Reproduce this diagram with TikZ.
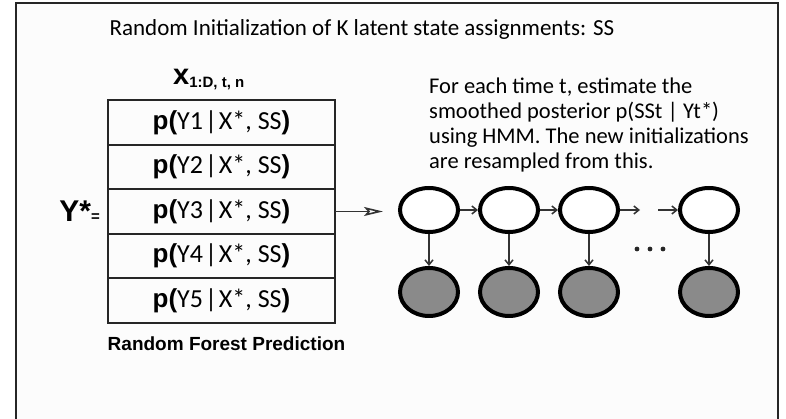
\documentclass[tikz,border=0pt]{standalone}
\usepackage{fontspec}
\setmainfont{Carlito}
\newfontfamily\arialfont{Liberation Sans}
\usetikzlibrary{positioning,arrows.meta,shapes.geometric}
\colorlet{colorFrame}{black!85}
\colorlet{colorEdge}{black!80}
\colorlet{colorObs}{black!46}
\tikzset{
   every path/.style={>={Straight Barb[length=5pt,width=8pt]}},
   frame/.style={color=colorFrame,line width=2pt},
   cell/.style={draw=black!85,line width=2pt,minimum width=227pt,minimum height=44.6pt,
                inner sep=0pt,outer sep=0pt,font=\fontsize{26}{28}\selectfont},
   hid/.style={ellipse,draw=black,line width=4pt,fill=white,minimum width=58pt,
               minimum height=44pt,inner sep=0pt},
   obs/.style={hid,fill=colorObs,minimum height=48pt},
   tr/.style={->,color=colorEdge,line width=1.5pt},
   em/.style={->,color=colorEdge,line width=1.5pt},
   feed/.style={-{Stealth[open,length=19pt,width=9pt,inset=4pt]},color=colorEdge,line width=1.6pt},
}
\newcommand{\pcell}[1]{{\arialfont\bfseries p(}Y#1\kern2pt|\kern2pt X*, SS{\arialfont\bfseries )}}

\begin{document}
\begin{tikzpicture}[x=1pt,y=1pt]
    \useasboundingbox (0,0) rectangle (786,419);
    \fill[black!1] (16,0) rectangle (778,416);
    \draw[frame] (16,0) -- (16,416) -- (778,416) -- (778,0);

    \node[font=\fontsize{23}{25}\selectfont] (title) at (362,389) {Random Initialization of K latent state assignments: SS};

    % random forest table
    \node[cell] (r1) at (221.5,296.7) {\pcell{1}};
    \node[cell,below=0pt of r1] (r2) {\pcell{2}};
    \node[cell,below=0pt of r2] (r3) {\pcell{3}};
    \node[cell,below=0pt of r3] (r4) {\pcell{4}};
    \node[cell,below=0pt of r4] (r5) {\pcell{5}};

    \node[anchor=base west,inner sep=0pt] (xlab) at (173,334)
        {\arialfont\bfseries\fontsize{29}{29}\selectfont x\raisebox{-3pt}{\fontsize{15}{15}\selectfont 1:D, t, n}};
    \node[left=8pt of r3,inner sep=0pt] (ystar)
        {\arialfont\bfseries\fontsize{30}{30}\selectfont Y*\fontsize{15}{15}\selectfont=};
    \node[below=14pt of r5,xshift=5pt,inner sep=0pt] (rflab)
        {\arialfont\bfseries\fontsize{19}{19}\selectfont Random Forest Prediction};

    \node[anchor=north west,align=left,inner sep=0pt,font=\fontsize{22.5}{25}\selectfont] (desc) at (429,341)
        {For each time t, estimate the\\
         smoothed posterior p(SSt | Yt*)\\
         using HMM. The new initializations\\
         are resampled from this.};

    % HMM chain
    \node[hid] (h1) at (429,209) {};
    \node[hid,right=18pt of h1] (h2) {};
    \node[hid,right=18pt of h2] (h3) {};
    \node[hid,right=58pt of h3] (h4) {};
    \coordinate[right=20pt of h3] (gapa);
    \coordinate[left=20pt of h4] (gapb);

    \node[obs,below=32pt of h1] (o1) {};
    \node[obs,below=32pt of h2] (o2) {};
    \node[obs,below=32pt of h3] (o3) {};
    \node[obs,below=32pt of h4] (o4) {};

    \draw[feed] (r3.east) -- ++(48,0);

    \draw[tr] (h1) -- (h2);
    \draw[tr] (h2) -- (h3);
    \draw[tr] (h3) -- (gapa);
    \draw[tr] (gapb) -- (h4);

    \foreach \i in {1,...,4}
        \draw[em] (h\i) -- (o\i);

    \coordinate (dots) at (650,170);
    \foreach \dx in {-13,0,13}
        \fill[black!85] (dots) ++(\dx,0) circle (2.4pt);

\end{tikzpicture}
\end{document}
